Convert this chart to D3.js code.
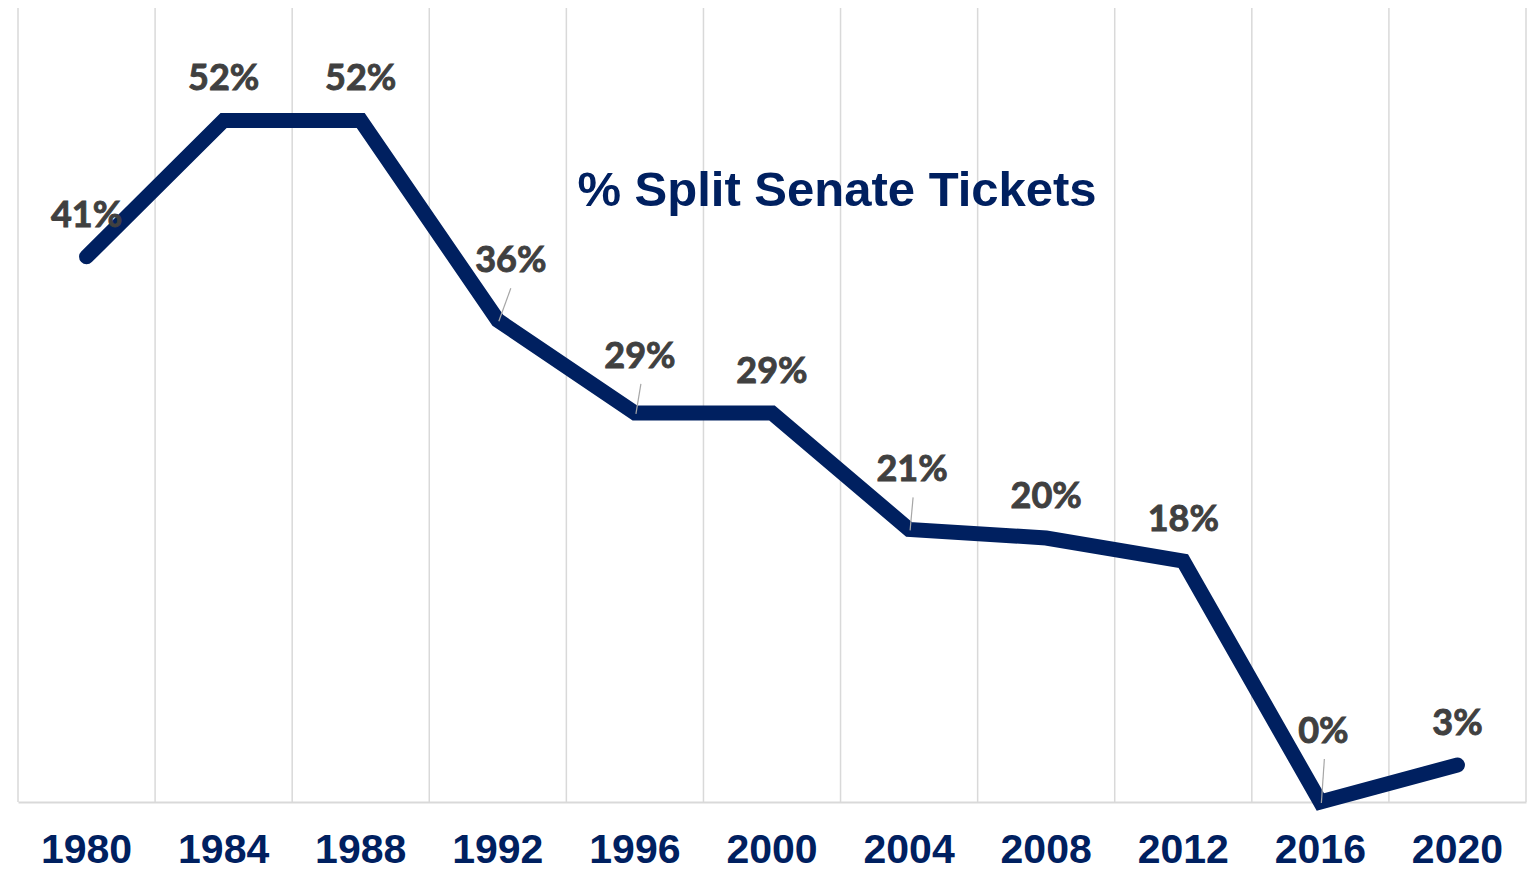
<!DOCTYPE html>
<html><head><meta charset="utf-8">
<script src="https://cdn.jsdelivr.net/npm/d3@7"></script>
<style>html,body{margin:0;padding:0;background:#fff;overflow:hidden}</style>
</head><body>
<svg id="chart" width="1531" height="872"></svg>
<script>
const years = ["1980","1984","1988","1992","1996","2000","2004","2008","2012","2016","2020"];
const splitPct = [41.2, 51.5, 51.5, 36.4, 29.4, 29.4, 20.6, 19.95, 18.2, 0, 2.8];
const labels = ["41%","52%","52%","36%","29%","29%","21%","20%","18%","0%","3%"];
// label offsets relative to default (above point): [dx, dy, leader]
const labelShift = [[0,0,0],[0,0,0],[0,0,0],[13,-18,1],[5,-15,1],[0,0,0],[3,-18,1],[0,0,0],[0,0,0],[3,-29,1],[0,0,0]];
const title = "% Split Senate Tickets";

const svg = d3.select("#chart");
const plotL = 18, plotR = 1526, plotT = 8, plotB = 802;
const navy = "#002060";

const x = d3.scaleBand().domain(years).range([plotL, plotR]).paddingInner(0).paddingOuter(0);
const y = d3.scaleLinear().domain([0, 60]).range([plotB, plotT]);

// vertical gridlines
const gx = d3.range(years.length + 1).map(i => plotL + i * x.bandwidth());
svg.append("g").selectAll("line").data(gx).join("line")
  .attr("x1", d => d).attr("x2", d => d).attr("y1", plotT).attr("y2", plotB)
  .attr("stroke", "#d9d9d9").attr("stroke-width", 1.5);

// x axis
const xAxis = svg.append("g").attr("transform", `translate(0,${plotB})`)
  .call(d3.axisBottom(x).tickSize(0).tickPadding(0));
xAxis.select(".domain").attr("stroke", "#d9d9d9").attr("stroke-width", 2);
xAxis.selectAll("text")
  .attr("y", 61).attr("dy", 0)
  .attr("fill", navy)
  .style("font-family", "'Liberation Sans', Arial, sans-serif")
  .style("font-weight", "bold").style("font-size", "41px");

// title
svg.append("text").attr("x", 837).attr("y", 206).attr("text-anchor", "middle")
  .attr("fill", navy)
  .style("font-family", "'Liberation Sans', Arial, sans-serif")
  .style("font-weight", "bold").style("font-size", "49px")
  .text(title);

// line
const cx = d => x(d) + x.bandwidth() / 2;
const line = d3.line().x((d, i) => cx(years[i])).y(d => y(d));
svg.append("path").datum(splitPct)
  .attr("d", line).attr("fill", "none")
  .attr("stroke", navy).attr("stroke-width", 15)
  .attr("stroke-linecap", "round").attr("stroke-linejoin", "miter");

// data labels with leader lines
const lbl = svg.append("g");
splitPct.forEach((v, i) => {
  const px = cx(years[i]), py = y(v);
  const [dx, dy, lead] = labelShift[i];
  const tx = px + dx, ty = py - 30 + dy;
  if (lead) {
    lbl.append("line").attr("x1", px + 1).attr("y1", py + 1)
      .attr("x2", tx + (dx > 5 ? 0 : 1)).attr("y2", ty + 16)
      .attr("stroke", "#a6a6a6").attr("stroke-width", 1.2);
  }
  lbl.append("text").attr("x", tx).attr("y", ty).attr("text-anchor", "middle")
    .attr("fill", "#404040")
    .attr("stroke", "#404040").attr("stroke-width", 0.9)
    .style("font-family", "Lato, 'Open Sans', sans-serif")
    .style("font-weight", "bold").style("font-size", "36px")
    .text(labels[i]);
});
</script>
</body></html>
